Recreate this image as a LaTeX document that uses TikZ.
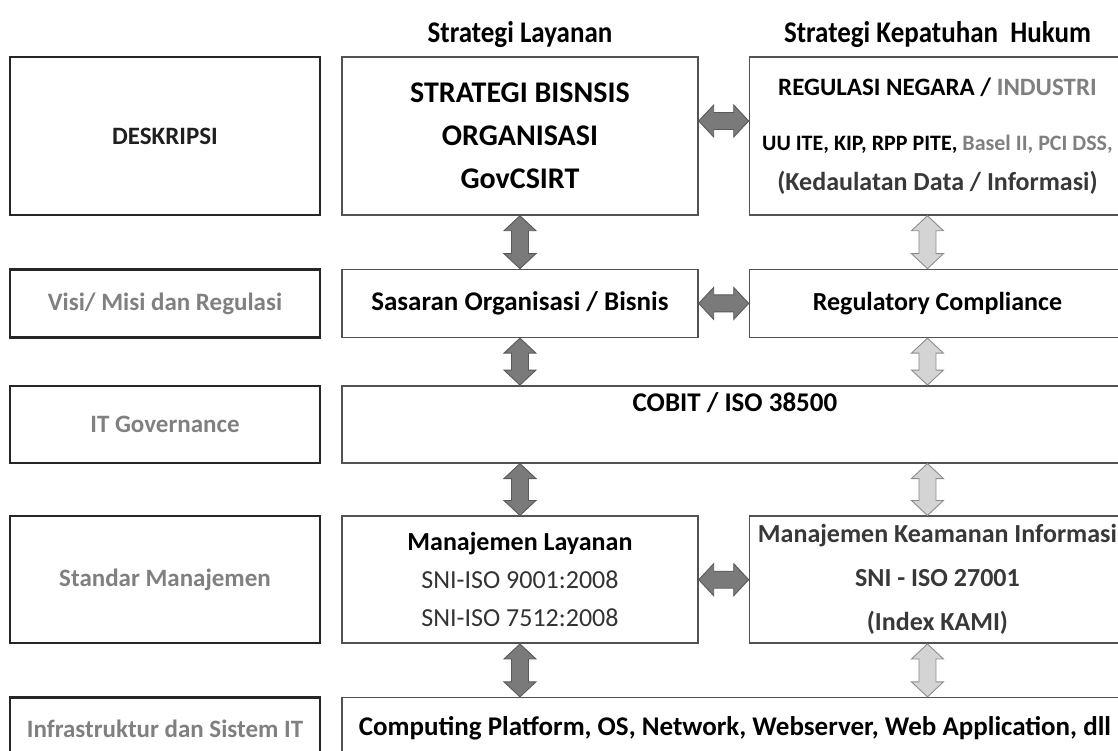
\documentclass[tikz,border=0pt]{standalone}
\usepackage{fontspec}
\setmainfont{Carlito}
\newfontfamily\headfont{Carlito}[FakeStretch=0.9]
\usetikzlibrary{positioning,calc}

\tikzset{
  leftbox/.style={draw=black!85, line width=2.4pt, minimum width=310pt, align=center, text=black!50, font=\fontsize{25}{40}\selectfont\bfseries},
  midbox/.style={draw=black!68, line width=1.5pt, align=center, font=\fontsize{27}{40}\selectfont\bfseries},
  head/.style={inner sep=0pt, font=\headfont\fontsize{30}{36}\selectfont\bfseries},
  darkarrow/.style={draw=black!65, fill=black!52, line width=0.9pt},
  lightarrow/.style={draw=black!45, fill=black!17, line width=0.9pt},
}

% double block arrows between two points
\newcommand{\vdbl}[3]{%
  \path #2 coordinate (vt) #3 coordinate (vb);
  \filldraw[#1] (vt) -- ++(-16,15) -- ++(7.5,0) -- ($(vb)+(-8.5,-15)$) -- ++(-7.5,0) -- (vb)
    -- ++(16,-15) -- ++(-7.5,0) -- ($(vt)+(8.5,15)$) -- ++(7.5,0) -- cycle;}
\newcommand{\hdbl}[3]{%
  \path #2 coordinate (hl) #3 coordinate (hr);
  \filldraw[#1] (hl) -- ++(15,-16) -- ++(0,7.5) -- ($(hr)+(-15,-8.5)$) -- ++(0,-7.5) -- (hr)
    -- ++(-15,16) -- ++(0,-7.5) -- ($(hl)+(15,8.5)$) -- ++(0,7.5) -- cycle;}

\begin{document}
\begin{tikzpicture}[x=1pt, y=-1pt]
\useasboundingbox (0,0) rectangle (1118,751);
\clip (0,0) rectangle (1118,751);

% left column
\node (desc) [leftbox, minimum height=158pt, text=black!88] at (165,136) {DESKRIPSI};
\node (visi) [leftbox, minimum height=68pt, below=52pt of desc] {Visi/ Misi dan Regulasi};
\node (itgov) [leftbox, minimum height=77pt, below=46pt of visi] {IT Governance};
\node (stdm) [leftbox, minimum height=127pt, below=51pt of itgov] {Standar Manajemen};
\node (infra) [leftbox, minimum height=62pt, below=52pt of stdm] {Infrastruktur dan Sistem IT};

% strategi layanan
\node (strat) [midbox, minimum width=356pt, minimum height=158pt, right=20pt of desc, font=\fontsize{30}{43}\selectfont\bfseries] {STRATEGI BISNSIS\\ORGANISASI\\GovCSIRT};
\node (sasaran) [midbox, minimum width=356pt, minimum height=68pt, right=20pt of visi] {Sasaran Organisasi / Bisnis};
\node (cobit) [midbox, minimum width=786pt, minimum height=77pt, right=20pt of itgov,
  label={[anchor=north, yshift=-4pt, font=\fontsize{27}{40}\selectfont\bfseries]north:COBIT / ISO 38500}] {};
\node (manl) [midbox, minimum width=356pt, minimum height=127pt, right=20pt of stdm, font=\fontsize{26}{38}\selectfont\bfseries] {Manajemen Layanan\\{\mdseries\color{black!80}SNI-ISO 9001:2008}\\{\mdseries\color{black!80}SNI-ISO 7512:2008}};
\node (comp) [midbox, minimum width=786pt, minimum height=62pt, right=20pt of infra] {Computing Platform, OS, Network, Webserver, Web Application, dll};

% strategi kepatuhan hukum
\node (reg) [midbox, minimum width=376pt, minimum height=158pt, right=50pt of strat, font=\fontsize{26}{40}\selectfont\bfseries] {{\fontsize{25}{40}\selectfont REGULASI NEGARA / \textcolor{black!50}{INDUSTRI}}\\[15pt]{\fontsize{22}{40}\selectfont UU ITE, KIP, RPP PITE, \textcolor{black!50}{Basel II, PCI DSS,}}\\{\color{black!78}(Kedaulatan Data / Informasi)}};
\node (regc) [midbox, minimum width=376pt, minimum height=68pt, right=50pt of sasaran, font=\fontsize{26}{40}\selectfont\bfseries] {Regulatory Compliance};
\node (mki) [midbox, minimum width=376pt, minimum height=127pt, right=50pt of manl, text=black!78, font=\fontsize{26}{44}\selectfont\bfseries] {Manajemen Keamanan Informasi\\SNI - ISO 27001\\(Index KAMI)};

% headers
\node (hlay) [head, above=8pt of strat] {Strategi Layanan};
\node (hkep) [head, above=8pt of reg] {Strategi Kepatuhan\ \ Hukum};

% arrows
\hdbl{darkarrow}{([yshift=15pt]strat.east)}{([yshift=15pt]reg.west)}
\hdbl{darkarrow}{(sasaran.east)}{(regc.west)}
\hdbl{darkarrow}{(manl.east)}{(mki.west)}

\vdbl{darkarrow}{(strat.south)}{(sasaran.north)}
\vdbl{darkarrow}{(sasaran.south)}{(sasaran.south |- cobit.north)}
\vdbl{darkarrow}{(manl.north |- cobit.south)}{(manl.north)}
\vdbl{darkarrow}{(manl.south)}{(manl.south |- comp.north)}

\vdbl{lightarrow}{($(reg.south)+(-10,0)$)}{($(regc.north)+(-10,0)$)}
\vdbl{lightarrow}{($(regc.south)+(-10,0)$)}{($(regc.south |- cobit.north)+(-10,0)$)}
\vdbl{lightarrow}{($(mki.north |- cobit.south)+(-10,0)$)}{($(mki.north)+(-10,0)$)}
\vdbl{lightarrow}{($(mki.south)+(-10,0)$)}{($(mki.south |- comp.north)+(-10,0)$)}
\end{tikzpicture}
\end{document}
